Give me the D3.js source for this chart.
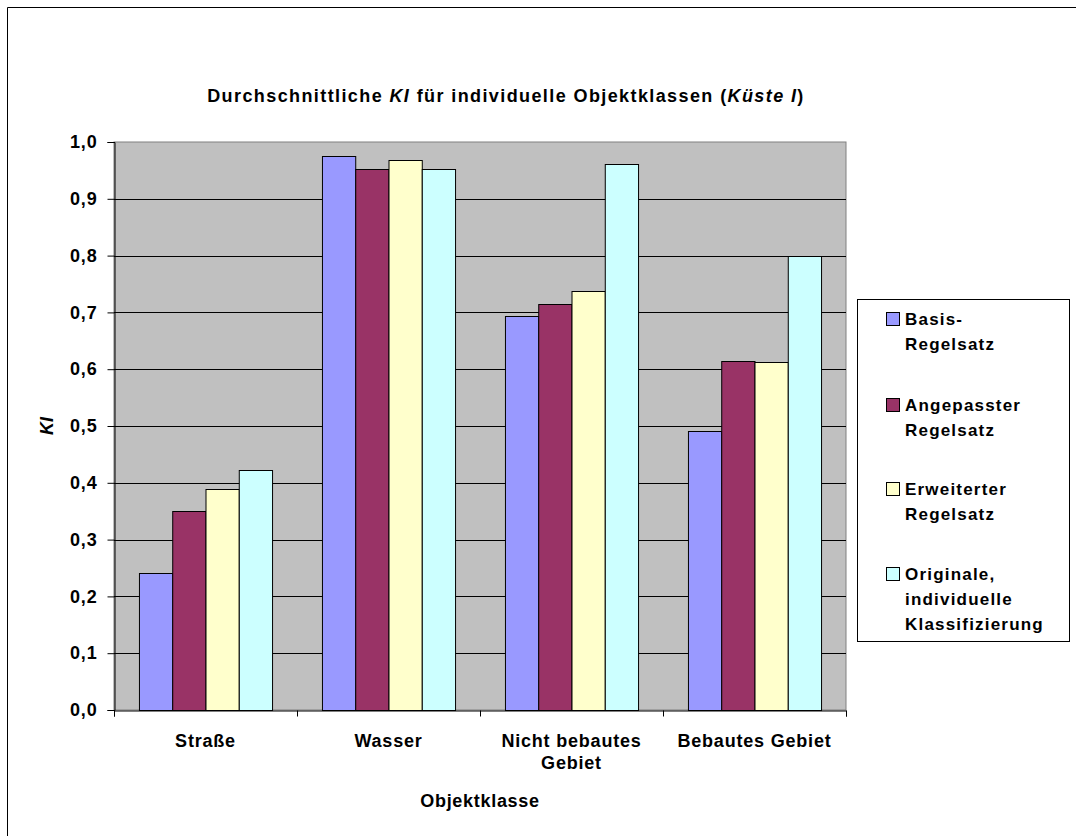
<!DOCTYPE html>
<html lang="de">
<head>
<meta charset="UTF-8">
<title>Durchschnittliche KI für individuelle Objektklassen</title>
<script src="https://d3js.org/d3.v7.min.js"></script>
<style>
    html, body { margin: 0; background: #fff; overflow: hidden; }
    svg { display: block; font-family: "Liberation Sans", Arial, sans-serif; font-weight: bold; }
    .tick text { font-size: 18px; letter-spacing: 0.8px; fill: #000; }
    .legend text { font-size: 17px; letter-spacing: 1.2px; }
</style>
</head>
<body>
<div id="chart"></div>
<script>
// data
const categories = [["Straße"], ["Wasser"], ["Nicht bebautes", "Gebiet"], ["Bebautes Gebiet"]];
const series = [
    ["Basis-", "Regelsatz"],
    ["Angepasster", "Regelsatz"],
    ["Erweiterter", "Regelsatz"],
    ["Originale,", "individuelle", "Klassifizierung"]
];
const basis      = [0.241, 0.976, 0.694, 0.491];
const angepasst  = [0.350, 0.952, 0.715, 0.615];
const erweitert  = [0.389, 0.969, 0.738, 0.612];
const original   = [0.423, 0.952, 0.961, 0.799];
const yTicks = [0, 0.1, 0.2, 0.3, 0.4, 0.5, 0.6, 0.7, 0.8, 0.9, 1.0];
const colors = ["#9999ff", "#993366", "#ffffcc", "#ccffff"];

const values = [basis, angepasst, erweitert, original];
const catKeys = categories.map(c => c.join(" "));
const serKeys = series.map(s => s.join(" "));

const W = 1076, H = 836;
const plot = { left: 114, right: 846, top: 142, bottom: 710 };

const svg = d3.select("#chart").append("svg")
    .attr("width", W).attr("height", H);

// outer chart border: only left and top edges fall inside the picture
svg.append("path")
    .attr("d", `M7.5,${H}V7.5H${W}`)
    .attr("fill", "none").attr("stroke", "#000");

const x = d3.scaleBand().domain(catKeys).range([plot.left, plot.right]).padding(0);
const bw = x.bandwidth() / 5.5;
const xs = d3.scaleBand().domain(serKeys).range([0.75 * bw, 4.75 * bw]).padding(0);
const y = d3.scaleLinear().domain([0, 1]).range([plot.bottom, plot.top]);

// plot area
svg.append("rect")
    .attr("x", plot.left).attr("y", plot.top)
    .attr("width", plot.right - plot.left).attr("height", plot.bottom - plot.top)
    .attr("fill", "#c0c0c0").attr("stroke", "#808080");

// gridlines
svg.append("g")
    .selectAll("line")
    .data(yTicks.filter(v => v > 0 && v < 1))
    .join("line")
    .attr("x1", plot.left).attr("x2", plot.right)
    .attr("y1", d => Math.round(y(d)) + 0.5).attr("y2", d => Math.round(y(d)) + 0.5)
    .attr("stroke", "#000");

// bars
const groups = svg.append("g").selectAll("g")
    .data(catKeys)
    .join("g")
    .attr("transform", d => `translate(${x(d)},0)`);

groups.selectAll("rect")
    .data((c, i) => serKeys.map((s, j) => ({ s, j, v: values[j][i] })))
    .join("rect")
    .attr("x", d => xs(d.s) + 0.5)
    .attr("y", d => Math.round(y(d.v)) + 0.5)
    .attr("width", xs.bandwidth())
    .attr("height", d => plot.bottom - Math.round(y(d.v)))
    .attr("fill", d => colors[d.j])
    .attr("stroke", "#000");

// y axis
const yAxis = svg.append("g")
    .attr("transform", `translate(${plot.left + 0.5},0)`)
    .call(d3.axisLeft(y).tickValues(yTicks).tickSize(7).tickPadding(10)
        .tickFormat(d => d3.format(".1f")(d).replace(".", ",")));
yAxis.select(".domain").attr("stroke", "#000");

// x axis (ticks at category boundaries)
const bounds = d3.scaleLinear().domain([0, catKeys.length]).range([plot.left, plot.right]);
svg.append("g")
    .attr("transform", `translate(0,${plot.bottom + 0.5})`)
    .call(d3.axisBottom(bounds).tickValues(d3.range(catKeys.length + 1)).tickSize(6).tickFormat(""))
    .select(".domain").attr("stroke", "#000");

// category labels
const catLabels = svg.append("g").attr("font-size", 18).attr("letter-spacing", 0.8)
    .attr("text-anchor", "middle");
categories.forEach((lines, i) => {
    const cx = x(catKeys[i]) + x.bandwidth() / 2;
    const t = catLabels.append("text").attr("x", cx).attr("y", 747);
    lines.forEach((l, k) => {
        t.append("tspan").attr("x", cx).attr("dy", k === 0 ? 0 : 22).text(l);
    });
});

// axis titles
svg.append("text")
    .attr("x", (plot.left + plot.right) / 2)
    .attr("y", 807)
    .attr("text-anchor", "middle")
    .attr("font-size", 18).attr("letter-spacing", 0.7)
    .text("Objektklasse");

svg.append("text")
    .attr("transform", `translate(53,${(plot.top + plot.bottom) / 2}) rotate(-90)`)
    .attr("text-anchor", "middle")
    .attr("font-size", 18).attr("font-style", "italic")
    .text("KI");

// title
const title = svg.append("text")
    .attr("x", 506).attr("y", 102)
    .attr("text-anchor", "middle")
    .attr("font-size", 18).attr("letter-spacing", 1.4);
title.append("tspan").text("Durchschnittliche ");
title.append("tspan").attr("font-style", "italic").text("KI");
title.append("tspan").text(" für individuelle Objektklassen (");
title.append("tspan").attr("font-style", "italic").text("Küste I");
title.append("tspan").text(")");

// legend
const legend = svg.append("g").attr("class", "legend");
legend.append("rect")
    .attr("x", 857.5).attr("y", 299.5)
    .attr("width", 212).attr("height", 342)
    .attr("fill", "#fff").attr("stroke", "#000");

const itemY = [325, 411, 495, 580];
series.forEach((lines, j) => {
    legend.append("rect")
        .attr("x", 886.5).attr("y", itemY[j] - 12.5)
        .attr("width", 13).attr("height", 13)
        .attr("fill", colors[j]).attr("stroke", "#000");
    const t = legend.append("text").attr("x", 905).attr("y", itemY[j]);
    lines.forEach((l, k) => {
        t.append("tspan").attr("x", 905).attr("dy", k === 0 ? 0 : 25).text(l);
    });
});
</script>
</body>
</html>
